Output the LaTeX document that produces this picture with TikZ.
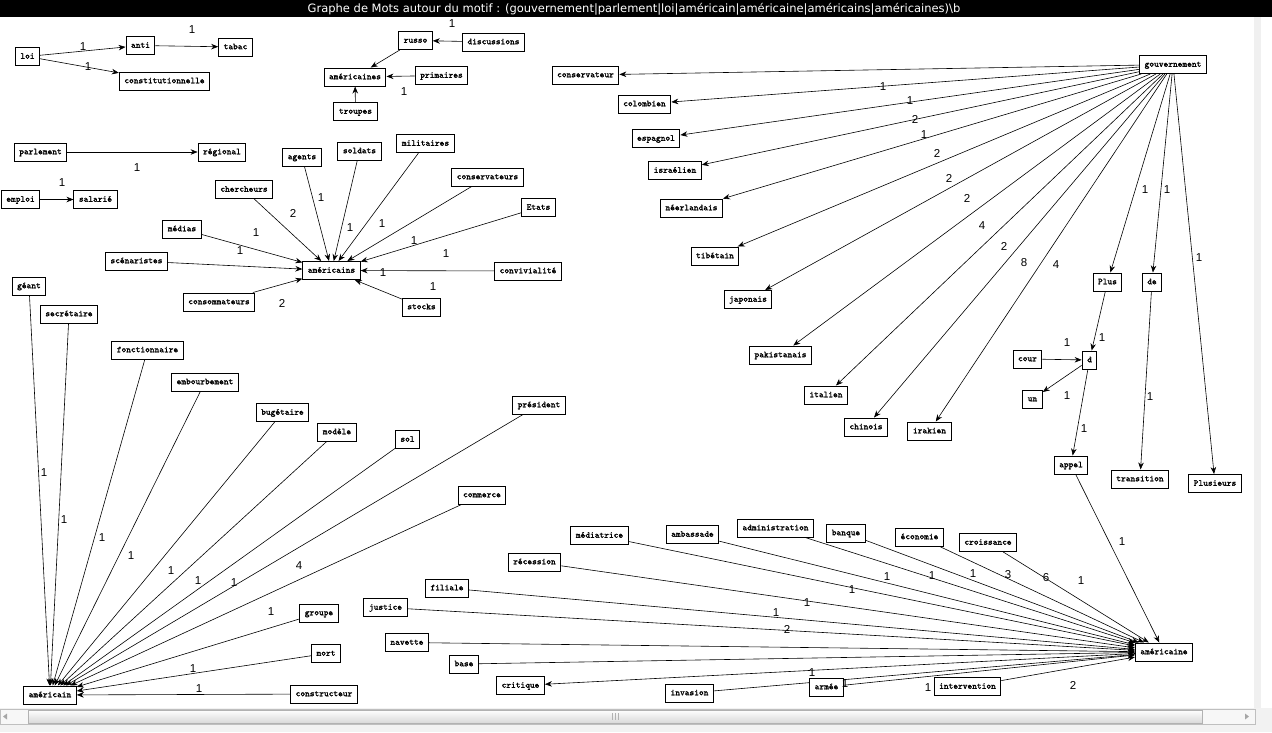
\documentclass[tikz,border=0pt]{standalone}
\usepackage{fontspec}
\usetikzlibrary{arrows.meta}
\newfontfamily\boxfont{Latin Modern Mono}[FakeBold=1.4]
\newfontfamily\lblfont{Liberation Sans}
\newfontfamily\titlefont{DejaVu Sans}
\pgfdeclarelayer{canvas}
\pgfdeclarelayer{edges}
\pgfsetlayers{canvas,edges,main}
\begin{document}
\begin{tikzpicture}[x=1pt,y=-1pt,
 wd/.style={draw, fill=white, font=\boxfont\fontsize{9}{10}\selectfont, inner xsep=5pt, inner ysep=0pt, minimum height=18pt, line width=1pt, text height=6pt, text depth=1.5pt},
 lb/.style={font=\lblfont\fontsize{11.5}{12}\selectfont, inner sep=0pt},
 ed/.style={-{Stealth[length=7pt,width=5.5pt]}, line width=0.6pt},
]
\useasboundingbox (0,0) rectangle (1272,732);
\begin{pgfonlayer}{canvas}
\fill[white] (0,0) rectangle (1272,732);
\fill[black] (0,0) rectangle (1272,17);
\fill[gray!12] (1254,17) rectangle (1261,709);
\fill[gray!10] (0,708) rectangle (1272,732);
\draw[gray!50, fill=gray!6] (0,709) rectangle (1255,724);
\shade[top color=white, bottom color=gray!30] (28,710) rectangle (1202,723);
\draw[gray!60] (28,710) rectangle (1202,723);
\draw[gray!60] (612,713) -- (612,720) (615,713) -- (615,720) (618,713) -- (618,720);
\fill[gray!70] (3,716.5) -- (7,713.5) -- (7,719.5) -- cycle;
\fill[gray!70] (1249,716.5) -- (1245,713.5) -- (1245,719.5) -- cycle;
\end{pgfonlayer}
\node[text=white, font=\titlefont\fontsize{11.5}{13}\selectfont, inner sep=0pt] (title) at (634,9) {Graphe de Mots autour du motif : (gouvernement|parlement|loi|américain|américaine|américains|américaines)\textbackslash b};

% top-left
\node[wd] (loi) at (27.5,56.5) {loi};
\node[wd] (anti) at (140.5,45.5) {anti};
\node[wd] (tabac) at (235.5,47) {tabac};
\node[wd] (constit) at (164.5,81) {constitutionnelle};
\node[wd] (parlement) at (40.5,152) {parlement};
\node[wd] (regional) at (222,152) {régional};
\node[wd] (emploi) at (20.5,199.5) {emploi};
\node[wd] (salarie) at (95.5,199.5) {salarié};
% americaines
\node[wd] (russo) at (415.5,40.5) {russo};
\node[wd] (discussions) at (493.5,42) {discussions};
\node[wd] (amcaines) at (355,77) {américaines};
\node[wd] (primaires) at (441.5,75.5) {primaires};
\node[wd] (troupes) at (355.5,111.5) {troupes};
% americains
\node[wd] (agents) at (302,157) {agents};
\node[wd] (soldats) at (359.5,151) {soldats};
\node[wd] (militaires) at (425.5,143.5) {militaires};
\node[wd] (chercheurs) at (244,189.5) {chercheurs};
\node[wd] (conservateurs) at (487.5,177) {conservateurs};
\node[wd] (etats) at (538.5,207.5) {Etats};
\node[wd] (medias) at (182,229) {médias};
\node[wd] (scenaristes) at (136.5,261) {scénaristes};
\node[wd] (amcains) at (331.5,270.5) {américains};
\node[wd] (convivialite) at (528,271) {convivialité};
\node[wd] (consommateurs) at (219,302) {consommateurs};
\node[wd] (stocks) at (421.5,307) {stocks};
% gouvernement
\node[wd] (gouv) at (1173,64.5) {gouvernement};
\node[wd] (conservateur) at (585.5,75) {conservateur};
\node[wd] (colombien) at (644.5,104) {colombien};
\node[wd] (espagnol) at (656,138.5) {espagnol};
\node[wd] (israelien) at (675,170.5) {israélien};
\node[wd] (neerlandais) at (691.5,208) {néerlandais};
\node[wd] (tibetain) at (715,256) {tibétain};
\node[wd] (japonais) at (748,299.5) {japonais};
\node[wd] (pakistanais) at (780.5,355) {pakistanais};
\node[wd] (italien) at (826,395) {italien};
\node[wd] (chinois) at (866,427) {chinois};
\node[wd] (irakien) at (929.5,431) {irakien};
\node[wd] (plus) at (1107.5,282) {Plus};
\node[wd] (de) at (1152,282) {de};
\node[wd] (cour) at (1027.5,359) {cour};
\node[wd] (d) at (1089.5,360) {d};
\node[wd] (un) at (1032.5,399) {un};
\node[wd] (appel) at (1071,465) {appel};
\node[wd] (transition) at (1140,479) {transition};
\node[wd] (plusieurs) at (1215,483.5) {Plusieurs};
% americaine
\node[wd] (amcaine) at (1164,652) {américaine};
\node[wd] (mediatrice) at (599.5,535.5) {médiatrice};
\node[wd] (ambassade) at (692.5,534.5) {ambassade};
\node[wd] (administration) at (775.5,528) {administration};
\node[wd] (banque) at (846,533) {banque};
\node[wd] (economie) at (919.5,537) {économie};
\node[wd] (croissance) at (988,542.5) {croissance};
\node[wd] (recession) at (534.5,562) {récession};
\node[wd] (filiale) at (447,588) {filiale};
\node[wd] (justice) at (385.5,607.5) {justice};
\node[wd] (navette) at (407,642.5) {navette};
\node[wd] (base) at (464,664) {base};
\node[wd] (critique) at (520.5,685.5) {critique};
\node[wd] (invasion) at (689.5,693) {invasion};
\node[wd] (armee) at (826.5,687) {armée};
\node[wd] (intervention) at (967.5,686.5) {intervention};
% americain
\node[wd] (geant) at (29,286) {géant};
\node[wd] (secretaire) at (69,314) {secrétaire};
\node[wd] (fonctionnaire) at (147.5,350) {fonctionnaire};
\node[wd] (embourbement) at (205,382) {embourbement};
\node[wd] (bugetaire) at (282.5,412.5) {bugétaire};
\node[wd] (modele) at (337,432) {modèle};
\node[wd] (sol) at (407.5,439.5) {sol};
\node[wd] (president) at (539,405) {président};
\node[wd] (commerce) at (482,495) {commerce};
\node[wd] (groupe) at (319,613) {groupe};
\node[wd] (mort) at (326,653.5) {mort};
\node[wd] (constructeur) at (324,694) {constructeur};
\node[wd] (amcain) at (50,695) {américain};

\begin{pgfonlayer}{edges}
\draw[ed] (loi) -- (anti);
\draw[ed] (anti) -- (tabac);
\draw[ed] (loi) -- (constit);
\draw[ed] (parlement) -- (regional);
\draw[ed] (emploi) -- (salarie);
\draw[ed] (discussions) -- (russo);
\draw[ed] (russo) -- (amcaines);
\draw[ed] (primaires) -- (amcaines);
\draw[ed] (troupes) -- (amcaines);
\foreach \s in {chercheurs,agents,soldats,militaires,conservateurs,etats,medias,scenaristes,consommateurs,convivialite,stocks}
  \draw[ed] (\s) -- (amcains);
\foreach \t in {conservateur,colombien,espagnol,israelien,neerlandais,tibetain,japonais,pakistanais,italien,chinois,irakien,plus,de,plusieurs}
  \draw[ed] (gouv) -- (\t);
\draw[ed] (plus) -- (d);
\draw[ed] (cour) -- (d);
\draw[ed] (d) -- (un);
\draw[ed] (d) -- (appel);
\draw[ed] (de) -- (transition);
\draw[ed] (appel) -- (amcaine);
\foreach \s in {mediatrice,ambassade,administration,banque,economie,croissance,recession,filiale,justice,navette,base,invasion,armee,intervention}
  \draw[ed] (\s) -- (amcaine);
\draw[ed] (amcaine) -- (critique);
\foreach \s in {geant,secretaire,fonctionnaire,embourbement,bugetaire,modele,sol,president,commerce,groupe,mort,constructeur}
  \draw[ed] (\s) -- (amcain);
\end{pgfonlayer}

% labels
\node[lb] (l1) at (83,47) {1};
\node[lb] (l2) at (192,30) {1};
\node[lb] (l3) at (88,67) {1};
\node[lb] (l4) at (137,168) {1};
\node[lb] (l5) at (62,183) {1};
\node[lb] (l6) at (452,24) {1};
\node[lb] (l7) at (404,92) {1};
\node[lb] (l8) at (293,213) {2};
\node[lb] (l9) at (321,198) {1};
\node[lb] (l10) at (256,233) {1};
\node[lb] (l11) at (240,251) {1};
\node[lb] (l12) at (350,228) {1};
\node[lb] (l13) at (382,224) {1};
\node[lb] (l14) at (414,241) {1};
\node[lb] (l15) at (446,254) {1};
\node[lb] (l16) at (383,273) {1};
\node[lb] (l17) at (433,287) {1};
\node[lb] (l18) at (282,303) {2};
\node[lb] (g1) at (883,87) {1};
\node[lb] (g2) at (910,101) {1};
\node[lb] (g3) at (915,119) {2};
\node[lb] (g4) at (924,135) {1};
\node[lb] (g5) at (937,153) {2};
\node[lb] (g6) at (949,178) {2};
\node[lb] (g7) at (967,198) {2};
\node[lb] (g8) at (982,226) {4};
\node[lb] (g9) at (1004,246) {2};
\node[lb] (g10) at (1024,263) {8};
\node[lb] (g11) at (1056,265) {4};
\node[lb] (g12) at (1145,190) {1};
\node[lb] (g13) at (1167,190) {1};
\node[lb] (g14) at (1199,258) {1};
\node[lb] (g15) at (1102,338) {1};
\node[lb] (g16) at (1067,343) {1};
\node[lb] (g17) at (1067,396) {1};
\node[lb] (g18) at (1084,429) {1};
\node[lb] (g19) at (1150,397) {1};
\node[lb] (g20) at (1122,542) {1};
\node[lb] (a1) at (887,577) {1};
\node[lb] (a2) at (932,576) {1};
\node[lb] (a3) at (973,574) {1};
\node[lb] (a4) at (1008,575) {3};
\node[lb] (a5) at (1046,578) {6};
\node[lb] (a6) at (1081,581) {1};
\node[lb] (a7) at (852,590) {1};
\node[lb] (a8) at (807,603) {1};
\node[lb] (a9) at (776,613) {1};
\node[lb] (a10) at (787,629) {2};
\node[lb] (a11) at (812,673) {1};
\node[lb] (a12) at (845,684) {1};
\node[lb] (a13) at (928,688) {1};
\node[lb] (a14) at (1073,685) {2};
\node[lb] (b1) at (44,473) {1};
\node[lb] (b2) at (64,520) {1};
\node[lb] (b3) at (102,538) {1};
\node[lb] (b4) at (131,556) {1};
\node[lb] (b5) at (171,571) {1};
\node[lb] (b6) at (198,581) {1};
\node[lb] (b7) at (234,583) {1};
\node[lb] (b8) at (299,566) {4};
\node[lb] (b9) at (271,612) {1};
\node[lb] (b10) at (193,669) {1};
\node[lb] (b11) at (199,689) {1};
\end{tikzpicture}
\end{document}
